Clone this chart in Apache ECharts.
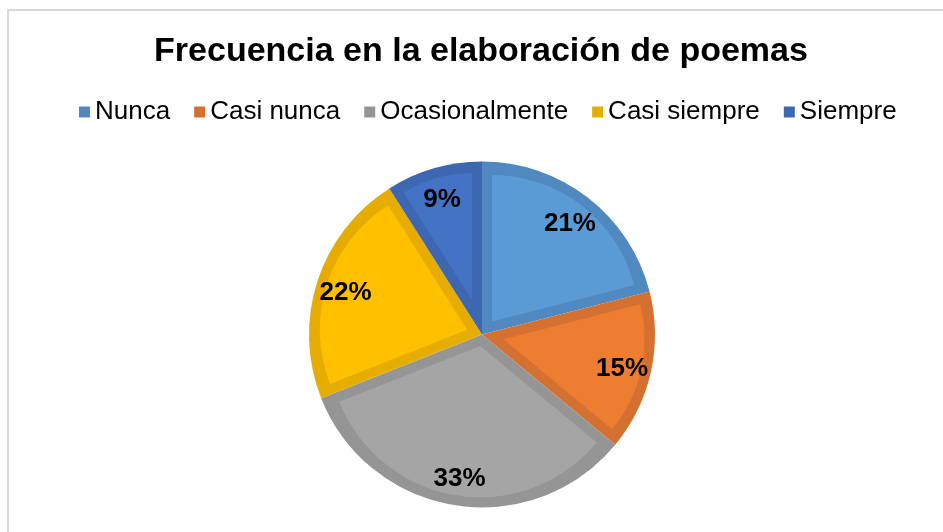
<!DOCTYPE html>
<html>
<head>
<meta charset="utf-8">
<script src="https://cdn.jsdelivr.net/npm/echarts@6/dist/echarts.min.js"></script>
<style>
  body { margin: 0; background: #fff; }
  #marco {
    position: absolute; left: 7px; top: 9px; width: 1000px; height: 600px;
    border-left: 2px solid #d9d9d9; border-top: 2px solid #d9d9d9;
  }
  #grafico { position: absolute; left: 0; top: 0; width: 943px; height: 532px; }
</style>
</head>
<body>
<div id="marco"></div>
<div id="grafico"></div>
<script>
const titulo = "Frecuencia en la elaboración de poemas";
const categorias = ["Nunca", "Casi nunca", "Ocasionalmente", "Casi siempre", "Siempre"];
const porcentajes = [21, 15, 33, 22, 9];
const coloresRelleno = ["#5b9bd5", "#ed7d31", "#a5a5a5", "#ffc000", "#4472c4"];
const coloresBorde = ["#5089c0", "#d57130", "#959595", "#e6ad00", "#3e67b1"];

const fuente = '"Liberation Sans", Arial, sans-serif';
const centro = [482, 334.5];
const radio = 173;
const grosorBorde = 10;

const total = porcentajes.reduce((a, b) => a + b, 0);

// pastel oscuro de fondo (el borde de cada sector)
const serieBorde = {
  name: "borde",
  type: "pie",
  center: centro,
  radius: [0, radio],
  startAngle: 90,
  silent: true,
  label: { show: false },
  labelLine: { show: false },
  data: categorias.map((nombre, i) => ({
    name: nombre,
    value: porcentajes[i],
    itemStyle: { color: coloresBorde[i] },
  })),
};

// un sector claro por serie, desplazado hacia fuera para dejar el borde parejo
const seriesRelleno = categorias.map((nombre, i) => {
  const medioAngulo = (Math.PI * porcentajes[i]) / total;
  const desplazamiento = grosorBorde / Math.sin(medioAngulo);
  return {
    name: "relleno " + nombre,
    type: "pie",
    center: centro,
    radius: [0, radio - grosorBorde - desplazamiento],
    startAngle: 90,
    silent: true,
    selectedMode: "multiple",
    selectedOffset: desplazamiento,
    label: { show: false },
    labelLine: { show: false },
    data: categorias.map((n, j) => ({
      name: n,
      value: porcentajes[j],
      selected: j === i,
      itemStyle: { color: j === i ? coloresRelleno[j] : "rgba(0,0,0,0)" },
    })),
  };
});

// serie invisible solo para ubicar las etiquetas
const serieEtiquetas = {
  name: "etiquetas",
  type: "pie",
  z: 10,
  center: centro,
  radius: [108, radio],
  startAngle: 90,
  silent: true,
  itemStyle: { color: "rgba(0,0,0,0)" },
  label: {
    show: true,
    position: "inside",
    formatter: "{c}%",
    offset: [0, 3],
    fontFamily: fuente,
    fontWeight: "bold",
    fontSize: 26,
    color: "#000",
  },
  labelLine: { show: false },
  data: categorias.map((nombre, i) => ({ name: nombre, value: porcentajes[i] })),
};

const myChart = echarts.init(document.getElementById("grafico"));

myChart.setOption({
  animation: false,
  title: {
    text: titulo,
    left: 476,
    top: 30,
    textAlign: "center",
    textStyle: {
      fontFamily: fuente,
      fontWeight: "bold",
      fontSize: 34,
      color: "#000",
    },
  },
  legend: {
    data: categorias,
    top: 94,
    left: 74,
    icon: "rect",
    itemWidth: 11,
    itemHeight: 11,
    itemGap: 24,
    selectedMode: false,
    textStyle: {
      fontFamily: fuente,
      fontSize: 26,
      color: "#000",
    },
  },
  series: [serieBorde, ...seriesRelleno, serieEtiquetas],
});
</script>
</body>
</html>
